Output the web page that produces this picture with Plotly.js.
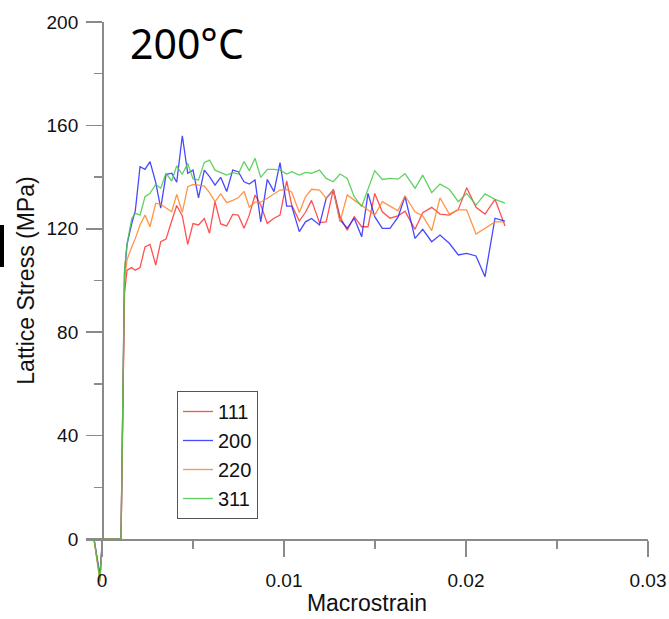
<!DOCTYPE html>
<html>
<head>
<meta charset="utf-8">
<script src="https://cdn.plot.ly/plotly-3.0.1.min.js"></script>
<style>html,body{margin:0;padding:0;background:#fff;}#chart{width:669px;height:619px;}</style>
</head>
<body>
<div id="chart"></div>
<script>
// Macrostrain (shared x values)
var strain = [-0.00044, -0.00011, 0.00002, 0.001044,
  0.001236, 0.001374, 0.001632, 0.00183, 0.002088, 0.002363, 0.002637, 0.002951, 0.003225, 0.003516,
  0.00383, 0.004104, 0.004412, 0.004709, 0.005, 0.005302, 0.005621, 0.005907, 0.006209, 0.006522,
  0.006852, 0.007181, 0.007489, 0.007802, 0.008093, 0.008407, 0.00872, 0.009082, 0.009451, 0.00978,
  0.010148, 0.010423, 0.010841, 0.011181, 0.011511, 0.01195, 0.012319, 0.012709, 0.013077, 0.013473,
  0.013857, 0.014269, 0.014615, 0.014984, 0.015401, 0.015824, 0.016264, 0.016648, 0.017198, 0.017621,
  0.018115, 0.018571, 0.019082, 0.019577, 0.020038, 0.02055, 0.021044, 0.021593, 0.022143];

var stress111 = [0, -15, 0, 0,
  95, 104, 105, 104, 105, 113, 114, 106, 115, 116, 123, 129, 125, 114, 122, 121.5, 124, 118.3, 130.5, 121.9,
  121.1, 125.6, 125.3, 120.2, 125.3, 133.1, 129.2, 122.1, 124.1, 125.3, 138.5, 129.2, 123, 126.4, 131, 122.4,
  122.7, 135.3, 124.7, 119.5, 124.7, 120.8, 120.8, 133.7, 126.6, 124.1, 125, 126.8, 119.8, 126.2, 128.3, 125.7,
  125.3, 127.5, 135.9, 128.3, 125.7, 131.4, 121.1];

var stress200 = [0, -14, 0, 0,
  103, 114, 122, 127, 144, 143, 146, 138, 128, 141, 141.5, 138, 156, 141.5, 142.7, 132, 142.7, 140.2, 136.9, 139.9,
  134.4, 142.7, 142.1, 138.2, 137.3, 138.9, 122.7, 139.1, 134.4, 145.6, 128.8, 128.8, 118.9, 122.7, 124, 121.5,
  131.8, 135, 123.4, 120.2, 124.1, 116.9, 133.7, 124.7, 120.2, 120.2, 124.5, 132.5, 116.3, 119.8, 115, 117.6,
  114.4, 109.9, 110.5, 109.5, 101.5, 124.1, 123];

var stress220 = [0, -16.5, 0, 0,
  100, 108, 113, 116.3, 121.5, 125.3, 120.8, 129.9, 129.5, 128.2, 126.6, 133.3, 126.4, 136.3, 137.2, 136.9, 136.5, 134, 130.5, 133.5,
  130.1, 131, 132, 134.5, 128.4, 130.3, 130.3, 131.8, 133.5, 135, 135.2, 134.2, 126.3, 132.4, 135.3, 135,
  131.8, 135, 122.7, 133.1, 131.1, 129.2, 127.3, 125.3, 130.5, 128.8, 127, 132.8, 126.6, 125, 119.3, 132,
  125.7, 127.3, 127.3, 118, 120.2, 122.7, 122.7];

var stress311 = [0, -15.5, 0, 0,
  104, 114, 124, 126, 125.3, 132.4, 133.7, 137.2, 135.7, 141.5, 138.5, 144.4, 141.1, 145.3, 139.3, 138.9, 145.7, 146.6, 142.7, 141.7,
  140.8, 141.7, 141.2, 146, 142.5, 147.3, 139.9, 143, 143, 142.7, 141.2, 142.1, 140.8, 141.8, 141.5, 142.7,
  139.5, 138.2, 141.2, 139.5, 132.4, 128.6, 135.7, 142.5, 139.1, 139.5, 139.2, 141.3, 135.7, 140.8, 134, 137.3,
  135.3, 130.5, 133.7, 129.2, 133.5, 131.4, 129.9];

var seriesNames = ['111', '200', '220', '311'];
var seriesColors = ['rgb(255,50,50)', 'rgb(40,40,255)', 'rgb(255,130,40)', 'rgb(70,200,70)'];
var seriesData = [stress111, stress200, stress220, stress311];

var xTickVals = [0, 0.01, 0.02, 0.03];
var xTickText = ['0', '0.01', '0.02', '0.03'];
var yTickVals = [0, 40, 80, 120, 160, 200];

var yMin = -17, yMax = 200, xMin = -0.00088, xMax = 0.03;

var traces = seriesData.map(function (d, i) {
  return {
    type: 'scatter', mode: 'lines', name: seriesNames[i],
    x: strain, y: d, xaxis: 'x', yaxis: 'y',
    line: {color: seriesColors[i], width: 1.3},
    opacity: 0.85
  };
});
// helper trace so that the visible stress axis (y2) is drawn
traces.push({type: 'scatter', mode: 'lines', x: [], y: [], xaxis: 'x', yaxis: 'y2', showlegend: false, hoverinfo: 'skip'});

var axisColor = '#8a8a8a';
var tickFont = {family: 'Liberation Sans, Arial, sans-serif', size: 19, color: '#111'};
var zeroFrac = (0 - yMin) / (yMax - yMin);
var xZeroFrac = (0 - xMin) / (xMax - xMin);

var layout = {
  width: 669, height: 619,
  margin: {l: 86, r: 21, t: 22, b: 36},
  paper_bgcolor: '#fff', plot_bgcolor: 'rgba(0,0,0,0)',
  showlegend: true,
  title: {
    text: '200°C', font: {family: 'Noto Sans, sans-serif', size: 41, color: '#000'},
    xref: 'container', yref: 'container', x: 130 / 669, xanchor: 'left', y: 1 - 44.5 / 619, yanchor: 'middle'
  },
  xaxis: {
    range: [xMin, xMax], anchor: 'free', position: zeroFrac,
    showline: true, linecolor: axisColor, linewidth: 1.5,
    ticks: 'outside', ticklen: 16, tickwidth: 1.5, tickcolor: axisColor,
    tickvals: xTickVals, ticktext: xTickText, tickfont: tickFont, ticklabelstandoff: 8,
    minor: {dtick: 0.005, tick0: 0, ticks: 'outside', ticklen: 8, tickwidth: 1.5, tickcolor: axisColor, showgrid: false},
    showgrid: false, zeroline: false,
    title: {text: 'Macrostrain', font: {family: 'Liberation Sans, Arial, sans-serif', size: 23, color: '#111'}, standoff: 4}
  },
  yaxis: {range: [yMin, yMax], visible: false, showgrid: false, zeroline: false, anchor: 'x'},
  yaxis2: {
    domain: [zeroFrac, 1], range: [0, yMax], anchor: 'free', position: xZeroFrac,
    showline: true, linecolor: axisColor, linewidth: 1.5,
    ticks: 'outside', ticklen: 16, tickwidth: 1.5, tickcolor: axisColor,
    tickvals: yTickVals, tickfont: tickFont, ticklabelstandoff: 4,
    minor: {dtick: 20, tick0: 0, ticks: 'outside', ticklen: 8, tickwidth: 1.5, tickcolor: axisColor, showgrid: false},
    showgrid: false, zeroline: false,
    title: {text: 'Lattice Stress (MPa)', font: {family: 'Liberation Sans, Arial, sans-serif', size: 23, color: '#111'}, standoff: 4}
  },
  legend: {
    x: (177 - 86) / 562, y: (583 - 391) / 561, xanchor: 'left', yanchor: 'top',
    bgcolor: '#fff', bordercolor: '#555', borderwidth: 1,
    font: {family: 'Liberation Sans, Arial, sans-serif', size: 20, color: '#111'},
    itemwidth: 30, tracegroupgap: 0
  },
  shapes: [{
    type: 'rect', xref: 'paper', yref: 'paper',
    x0: (0 - 86) / 562, x1: (4 - 86) / 562, y0: (583 - 267) / 561, y1: (583 - 225) / 561,
    fillcolor: '#000', line: {width: 0}
  }]
};

Plotly.newPlot('chart', traces, layout, {displayModeBar: false, staticPlot: true});
</script>
</body>
</html>
